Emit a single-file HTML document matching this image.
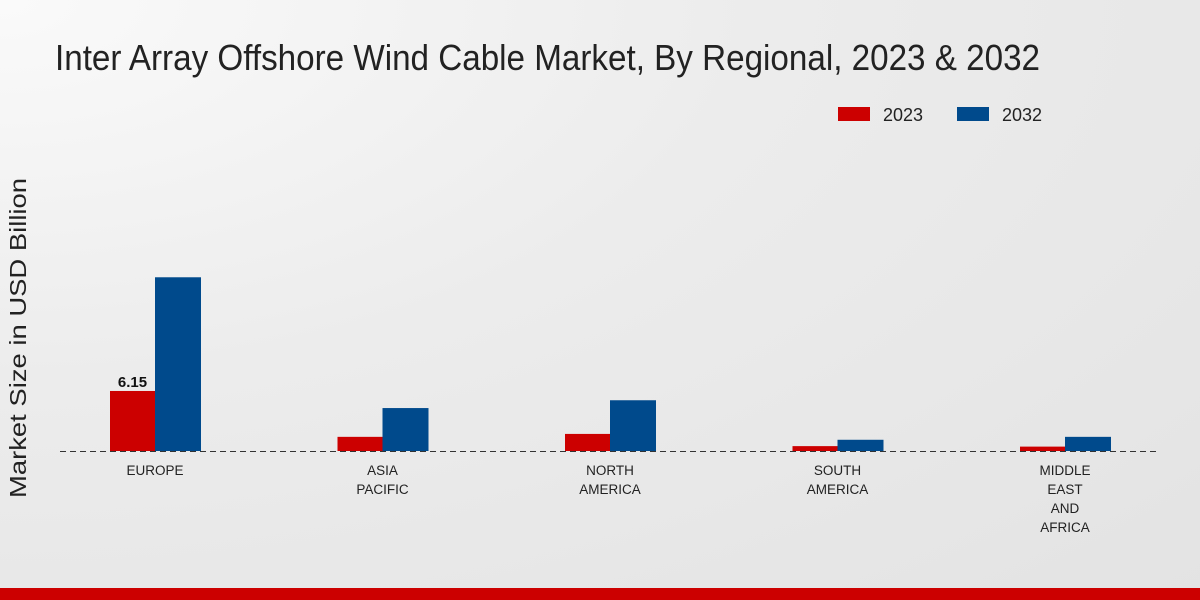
<!DOCTYPE html>
<html><head><meta charset="utf-8"><style>
body{margin:0;width:1200px;height:600px;overflow:hidden;font-family:"Liberation Sans",sans-serif;}
#bg{position:absolute;left:0;top:0;width:1200px;height:600px;background:radial-gradient(ellipse at 0% 0%,#fafafa 0%,#ececec 45%,#e3e3e3 100%);}
</style></head><body>
<div id="bg"></div>
<svg id="c" width="1200" height="600" style="position:absolute;left:0;top:0">
<text x="55" y="70" font-size="36" fill="#222" textLength="985" lengthAdjust="spacingAndGlyphs">Inter Array Offshore Wind Cable Market, By Regional, 2023 &amp; 2032</text>
<text transform="translate(26,338) rotate(-90)" text-anchor="middle" font-size="23" fill="#222" textLength="320" lengthAdjust="spacingAndGlyphs">Market Size in USD Billion</text>
<g>
<rect x="838" y="107" width="32" height="14" fill="#cc0000"/>
<text x="883" y="121" font-size="18" fill="#222">2023</text>
<rect x="957" y="107" width="32" height="14" fill="#004a8c"/>
<text x="1002" y="121" font-size="18" fill="#222">2032</text>
</g>
<line x1="60" y1="451.5" x2="1160" y2="451.5" stroke="#333" stroke-dasharray="6,4"/>
<g id="bars"></g>
<rect x="0" y="588" width="1200" height="12" fill="#cc0000"/>
</svg>
<script>
const categories=[["EUROPE"],["ASIA","PACIFIC"],["NORTH","AMERICA"],["SOUTH","AMERICA"],["MIDDLE","EAST","AND","AFRICA"]];
const values2023=[6.15,1.45,1.75,0.5,0.45];
const values2032=[17.8,4.4,5.2,1.15,1.45];
const labeled2023=["6.15","","","",""];
const ns="http://www.w3.org/2000/svg";
const g=document.getElementById('bars');
const baseY=451, pxPerUnit=9.76;
function y(v){return baseY-v*pxPerUnit;}
function xc(i){return 155+i*227.5;}
function mk(t,a){const e=document.createElementNS(ns,t);for(const k in a)e.setAttribute(k,a[k]);g.appendChild(e);return e;}
categories.forEach((c,i)=>{
  const r=mk('rect',{x:xc(i)-45,y:y(values2023[i]),width:45,height:values2023[i]*pxPerUnit,fill:'#cc0000'});
  
  
  const b=mk('rect',{x:xc(i),y:y(values2032[i]),width:46,height:values2032[i]*pxPerUnit,fill:'#004a8c'});
  
  
  if(labeled2023[i]){
    const t=mk('text',{x:xc(i)-22.5,y:y(values2023[i])-4,'text-anchor':'middle','font-size':'15','font-weight':'bold',fill:'#111'});
    t.textContent=labeled2023[i];
    
    
  }
  c.forEach((line,j)=>{
    const t=mk('text',{x:xc(i),y:475+j*19,'text-anchor':'middle','font-size':'13.5',fill:'#222'});
    t.textContent=line;
    
    
  });
});
</script>
</body></html>
